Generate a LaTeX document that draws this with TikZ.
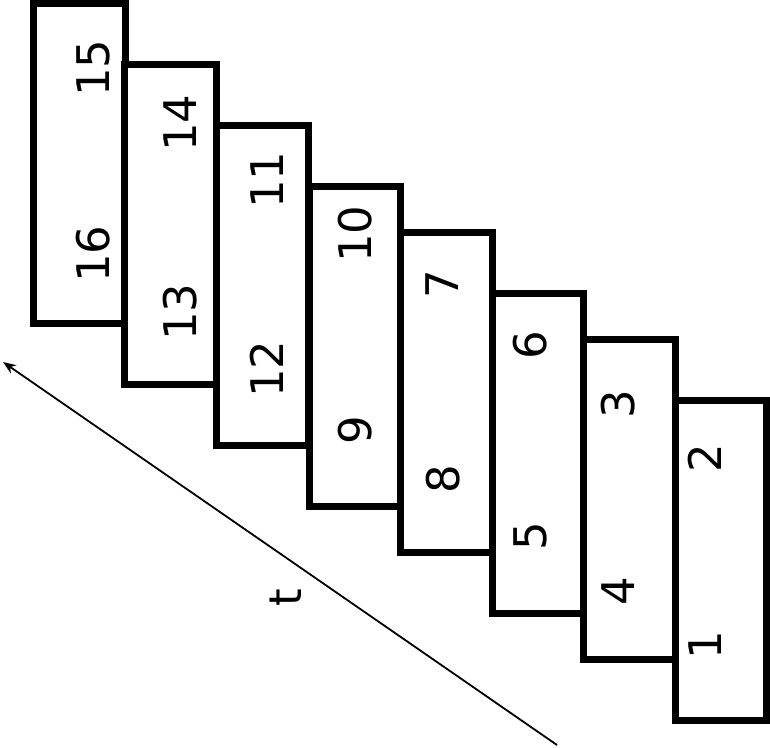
\documentclass[tikz,border=0pt]{standalone}
\usepackage{fontspec}
\usepackage{tikz}
\usetikzlibrary{arrows.meta}
\newfontfamily\labelfont{DejaVu Sans}

\begin{document}
\begin{tikzpicture}[
  x=1pt,y=-1pt,
  font=\labelfont\fontsize{45}{50}\selectfont,
  frame/.style={rectangle,draw=black,line width=7pt,fill=white,minimum width=91.5pt,minimum height=320pt,inner sep=0pt},
  num/.style={rotate=90,inner sep=0pt},
  timearrow/.style={-{Stealth[length=13pt,width=10pt]},draw=black,line width=1.8pt}
]
\useasboundingbox (0,0) rectangle (770,747);
% frames, top left to bottom right
\node[frame] (fA) at (79.5,163.5) {};
\node[frame] (fB) at (170.5,224) {};
\node[frame] (fC) at (262.5,285) {};
\node[frame] (fD) at (355,346.5) {};
\node[frame] (fE) at (446.5,392) {};
\node[frame] (fF) at (538,453.5) {};
\node[frame] (fG) at (629.5,499) {};
\node[frame] (fH) at (721,560) {};
% numbers
\node[num] (n15) at (93,68) {15};
\node[num] (n16) at (93,254) {16};
\node[num] (n14) at (180,123) {14};
\node[num] (n13) at (180,312) {13};
\node[num] (n11) at (267,180) {11};
\node[num] (n12) at (267,369) {12};
\node[num] (n10) at (355,234) {10};
\node[num] (n9) at (355,430) {9};
\node[num] (n7) at (442,284) {7};
\node[num] (n8) at (443,479) {8};
\node[num] (n6) at (530,345) {6};
\node[num] (n5) at (530,536) {5};
\node[num] (n3) at (618,404) {3};
\node[num] (n4) at (618,591) {4};
\node[num] (n2) at (705,458) {2};
\node[num] (n1) at (705,645) {1};
% time axis
\coordinate (tstart) at (557,745);
\coordinate (tend) at (3,362);
\draw[timearrow] (tstart) -- (tend);
\node[num] (tlabel) at (286,598) {t};
\end{tikzpicture}
\end{document}
